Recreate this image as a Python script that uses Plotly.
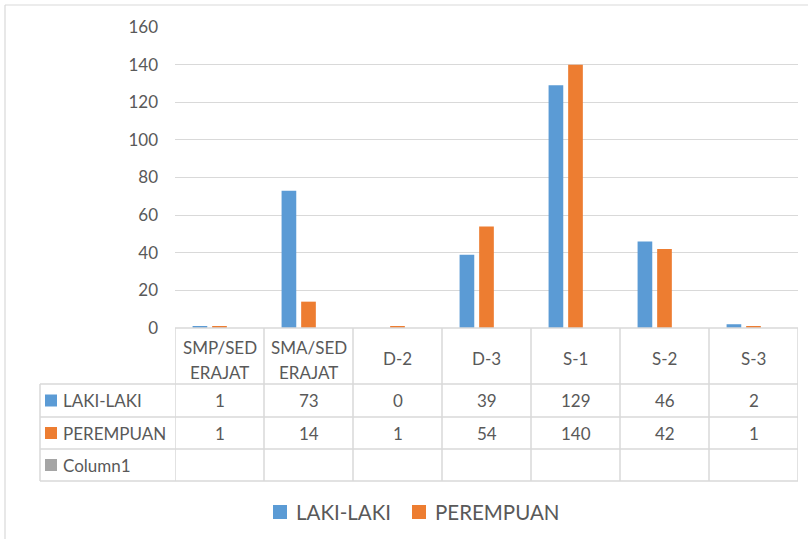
import plotly.graph_objects as go

categories = ["SMP/SED\nERAJAT", "SMA/SED\nERAJAT", "D-2", "D-3", "S-1", "S-2", "S-3"]
laki = [1, 73, 0, 39, 129, 46, 2]
perempuan = [1, 14, 1, 54, 140, 42, 1]
column1 = [None] * 7
series_names = ["LAKI-LAKI", "PEREMPUAN", "Column1"]
series_colors = ["#5B9BD5", "#ED7D31", "#A5A5A5"]
legend_names = ["LAKI-LAKI", "PEREMPUAN"]
y_ticks = [0, 20, 40, 60, 80, 100, 120, 140, 160]

W, H = 808, 539
ML, MR, MT, MB = 175, 10, 27, 211
PW, PH = W - ML - MR, H - MT - MB
FONT = "Lato"
TXT = "#595959"
GRID = "#D9D9D9"


def px(xp):
    return (xp - ML) / PW


def py(yp):
    return (H - MB - yp) / PH


x_idx = list(range(len(categories)))
fig = go.Figure()
for name, vals, col in zip(series_names, [laki, perempuan, column1], series_colors):
    fig.add_trace(go.Bar(x=x_idx, y=vals, name=name, marker=dict(color=col, line=dict(width=0)),
                         showlegend=False))

shapes = []
annotations = []
# outer chart border
shapes.append(dict(type="line", xref="paper", yref="paper", x0=px(5), x1=px(830), y0=py(5), y1=py(5),
                   line=dict(color=GRID, width=1.2)))
shapes.append(dict(type="line", xref="paper", yref="paper", x0=px(5), x1=px(5), y0=py(5), y1=py(560),
                   line=dict(color=GRID, width=1.2)))

# table geometry (pixels)
row_tops = [328, 384, 417, 449, 481]
left_x = 40
shapes.append(dict(type="line", xref="x", yref="paper", x0=-0.5, x1=len(categories) - 0.5,
                   y0=py(row_tops[0]), y1=py(row_tops[0]), line=dict(color=GRID, width=1.5)))
for yt in row_tops[1:]:
    shapes.append(dict(type="line", xref="paper", yref="paper", x0=px(left_x), x1=1,
                       y0=py(yt), y1=py(yt), line=dict(color=GRID, width=1.5)))
for i in range(len(categories) + 1):
    shapes.append(dict(type="line", xref="x", yref="paper", x0=i - 0.5, x1=i - 0.5,
                       y0=py(row_tops[0]), y1=py(row_tops[-1]), line=dict(color=GRID, width=1.5)))
shapes.append(dict(type="line", xref="paper", yref="paper", x0=px(left_x), x1=px(left_x),
                   y0=py(row_tops[1]), y1=py(row_tops[-1]), line=dict(color=GRID, width=1.5)))

# header labels
for i, cat in enumerate(categories):
    lines = cat.split("\n")
    ys = [347, 372] if len(lines) == 2 else [359]
    for ln, yy in zip(lines, ys):
        annotations.append(dict(xref="x", yref="paper", x=i, y=py(yy), text=ln, showarrow=False,
                                font=dict(family=FONT, size=17, color=TXT), xanchor="center", yanchor="middle"))

# data rows
for r, (name, vals, col) in enumerate(zip(series_names, [laki, perempuan, column1], series_colors)):
    yc = (row_tops[r + 1] + row_tops[r + 2]) / 2
    shapes.append(dict(type="rect", xref="paper", yref="paper", x0=px(45), x1=px(57),
                       y0=py(yc - 6), y1=py(yc + 6), fillcolor=col, line=dict(width=0)))
    annotations.append(dict(xref="paper", yref="paper", x=px(61), y=py(yc), text=name, showarrow=False,
                            font=dict(family=FONT, size=17, color=TXT), xanchor="left", yanchor="middle"))
    for i, v in enumerate(vals):
        if v is None:
            continue
        annotations.append(dict(xref="x", yref="paper", x=i, y=py(yc), text=str(v), showarrow=False,
                                font=dict(family=FONT, size=17, color=TXT), xanchor="center", yanchor="middle"))

# legend (drawn manually)
leg_x = [273, 412]
for lx, name, col in zip(leg_x, legend_names, series_colors):
    shapes.append(dict(type="rect", xref="paper", yref="paper", x0=px(lx), x1=px(lx + 14),
                       y0=py(519), y1=py(505), fillcolor=col, line=dict(width=0)))
    annotations.append(dict(xref="paper", yref="paper", x=px(lx + 21), y=py(512), text=name, showarrow=False,
                            font=dict(family=FONT, size=20.5, color=TXT), xanchor="left", yanchor="middle"))

fig.update_layout(
    width=W, height=H,
    margin=dict(l=ML, r=MR, t=MT, b=MB),
    paper_bgcolor="white", plot_bgcolor="white",
    barmode="group", bargap=0.34, bargroupgap=0.25,
    font=dict(family=FONT, color=TXT),
    showlegend=False,
    xaxis=dict(range=[-0.5, len(categories) - 0.5], showticklabels=False, showgrid=False,
               zeroline=False, showline=False, ticks=""),
    yaxis=dict(range=[0, 160], tickvals=y_ticks, showgrid=True, gridcolor=GRID, gridwidth=1.2,
               zeroline=False, showline=False, ticks="", ticklabelstandoff=16,
               tickfont=dict(family=FONT, size=17, color=TXT)),
    shapes=shapes, annotations=annotations,
)

fig.write_html("out.html", config={"displayModeBar": False},
               post_script="document.body.style.margin='0';")
